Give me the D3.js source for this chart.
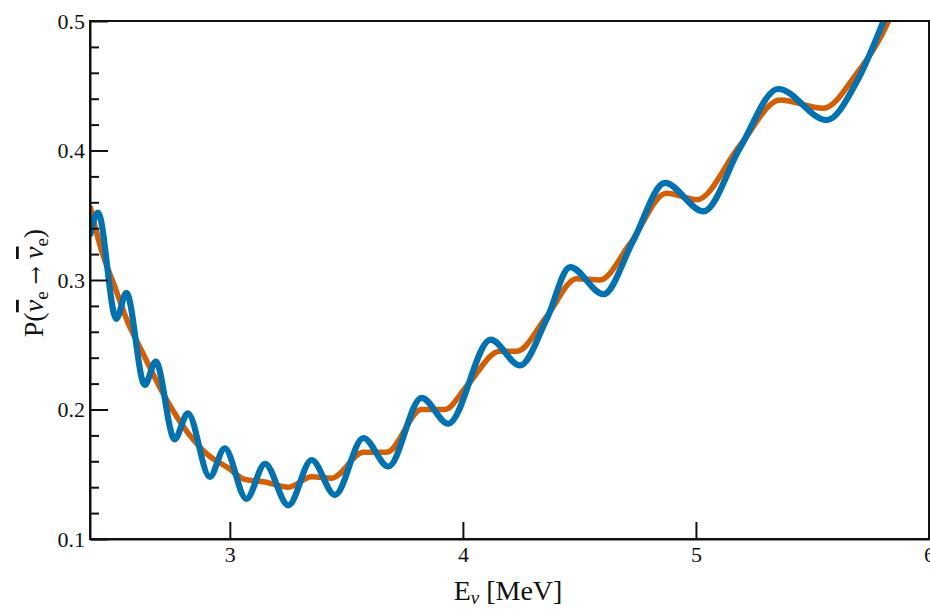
<!doctype html>
<html>
<head>
  <meta charset="utf-8">
  <script src="https://cdnjs.cloudflare.com/ajax/libs/d3/7.8.5/d3.min.js"></script>
  <style>
    body { margin: 0; background: #fff; }
    svg text { font-family: "Liberation Serif", "Times New Roman", serif; fill: #111; }
    .axis path, .axis line { stroke: #111; stroke-width: 2px; }
  </style>
</head>
<body>
  <svg id="chart" width="930" height="609"></svg>
  <script>
    // values
    var blueE = [2.40, 2.434, 2.513, 2.556, 2.635, 2.682, 2.763, 2.820, 2.914, 2.978,
                 3.071, 3.151, 3.251, 3.351, 3.451, 3.573, 3.680, 3.823, 3.937, 4.119,
                 4.245, 4.360, 4.460, 4.603, 4.730, 4.867, 5.032, 5.189, 5.353, 5.561,
                 5.690, 5.804, 5.86];
    var blueP = [0.334, 0.352, 0.270, 0.290, 0.219, 0.237, 0.177, 0.197, 0.148, 0.170,
                 0.131, 0.158, 0.126, 0.161, 0.134, 0.178, 0.156, 0.209, 0.189, 0.254,
                 0.234, 0.270, 0.310, 0.289, 0.330, 0.375, 0.353, 0.402, 0.4475, 0.4235,
                 0.453, 0.4995, 0.525];

    var orangeE = [2.40, 2.449, 2.506, 2.563, 2.620, 2.706, 2.792, 2.906, 2.992, 3.064,
                   3.150, 3.251, 3.351, 3.437, 3.573, 3.673, 3.823, 3.923, 4.016, 4.159,
                   4.231, 4.360, 4.488, 4.588, 4.717, 4.874, 5.003, 5.189, 5.361, 5.546,
                   5.690, 5.825, 5.87];
    var orangeP = [0.357, 0.323, 0.295, 0.267, 0.246, 0.215, 0.189, 0.165, 0.155, 0.146,
                   0.144, 0.140, 0.148, 0.147, 0.167, 0.167, 0.200, 0.200, 0.218, 0.245,
                   0.245, 0.272, 0.301, 0.300, 0.328, 0.367, 0.362, 0.404, 0.439, 0.4326,
                   0.4596, 0.4995, 0.52];

    var xTicks = [3, 4, 5, 6];
    var yTicks = [0.1, 0.2, 0.3, 0.4, 0.5];
    var yMinor = [0.12, 0.14, 0.16, 0.18, 0.22, 0.24, 0.26, 0.28, 0.32, 0.34, 0.36, 0.38, 0.42, 0.44, 0.46, 0.48];

    var plotL = 90, plotR = 929, plotT = 21, plotB = 539;
    var svg = d3.select("#chart");

    var x = d3.scaleLinear().domain([2.4, 6]).range([plotL, plotR]);
    var y = d3.scaleLinear().domain([0.1, 0.5]).range([plotB, plotT]);

    svg.append("clipPath").attr("id", "plotclip")
      .append("rect")
      .attr("x", plotL).attr("y", plotT)
      .attr("width", plotR - plotL).attr("height", plotB - plotT);

    var line = d3.line()
      .x(d => x(d[0]))
      .y(d => y(d[1]))
      .curve(d3.curveMonotoneX);

    var curves = svg.append("g").attr("clip-path", "url(#plotclip)");
    curves.append("path")
      .datum(d3.zip(orangeE, orangeP))
      .attr("d", line)
      .attr("fill", "none")
      .attr("stroke", "#d55e00")
      .attr("stroke-width", 5.5);
    curves.append("path")
      .datum(d3.zip(blueE, blueP))
      .attr("d", line)
      .attr("fill", "none")
      .attr("stroke", "#0072b2")
      .attr("stroke-width", 6.2);

    // frame
    svg.append("rect")
      .attr("x", plotL).attr("y", plotT)
      .attr("width", plotR - plotL).attr("height", plotB - plotT)
      .attr("fill", "none")
      .attr("stroke", "#111")
      .attr("stroke-width", 2);

    function serifTicks(g) {
      g.attr("font-family", null).attr("font-size", null);
      g.selectAll("text")
        .style("font-family", "'Liberation Serif', serif")
        .style("font-size", "22px");
    }

    svg.append("g")
      .attr("class", "axis")
      .attr("transform", "translate(0," + plotB + ")")
      .call(d3.axisBottom(x).tickValues(xTicks).tickFormat(d3.format("d"))
        .tickSizeInner(-17).tickSizeOuter(0).tickPadding(7))
      .call(serifTicks);

    svg.append("g")
      .attr("class", "axis")
      .attr("transform", "translate(" + plotL + ",0)")
      .call(d3.axisLeft(y).tickValues(yTicks).tickFormat(d3.format(".1f"))
        .tickSizeInner(-18).tickSizeOuter(0).tickPadding(5))
      .call(serifTicks);

    svg.append("g")
      .attr("class", "axis")
      .attr("transform", "translate(" + plotL + ",0)")
      .call(d3.axisLeft(y).tickValues(yMinor).tickFormat("")
        .tickSizeInner(-9).tickSizeOuter(0))
      .call(g => g.select(".domain").remove());

    // axis titles
    var xt = svg.append("text")
      .attr("x", 508).attr("y", 600)
      .attr("text-anchor", "middle")
      .style("font-size", "28px");
    xt.append("tspan").text("E");
    xt.append("tspan").attr("font-style", "italic").style("font-size", "19px").attr("dy", 4).text("ν");
    xt.append("tspan").attr("dy", -4).text(" [MeV]");

    var yt = svg.append("text")
      .attr("transform", "translate(43,283) rotate(-90)")
      .attr("text-anchor", "middle")
      .style("font-size", "28px");
    yt.append("tspan").text("P(");
    yt.append("tspan").attr("font-style", "italic").style("text-decoration", "overline").text("ν");
    yt.append("tspan").style("font-size", "19px").attr("dy", 5).text("e");
    yt.append("tspan").attr("dy", -5).text(" ");
    yt.append("tspan").style("font-family", "DejaVu Serif").style("font-size", "22px").text("→");
    yt.append("tspan").text(" ");
    yt.append("tspan").attr("font-style", "italic").style("text-decoration", "overline").text("ν");
    yt.append("tspan").style("font-size", "19px").attr("dy", 5).text("e");
    yt.append("tspan").attr("dy", -5).text(")");
  </script>
</body>
</html>
